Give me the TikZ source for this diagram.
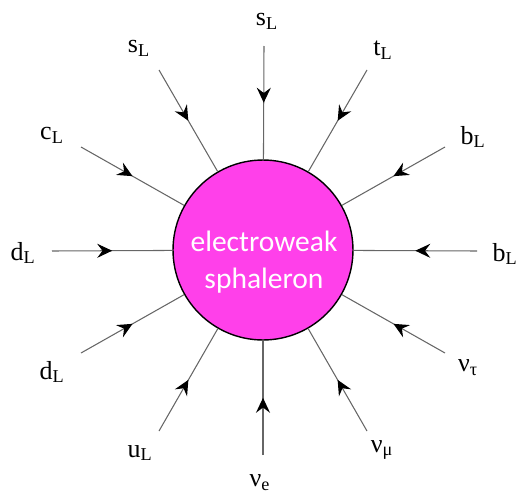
\documentclass[tikz,border=0pt]{standalone}
\usepackage{fontspec}
\setmainfont{Liberation Serif}
\newfontfamily\sphfont{Carlito}
\usetikzlibrary{arrows.meta,decorations.markings}
\definecolor{sphmagenta}{RGB}{255,64,234}

\begin{document}
\begin{tikzpicture}[
    x=0.02cm, y=-0.02cm,
    blob/.style={circle, draw=black, line width=0.8pt, fill=sphmagenta, minimum size=3.6cm, inner sep=0pt},
    blobtext/.style={align=center, text=white, font=\sphfont\fontsize{16.8}{21}\selectfont, inner sep=0pt},
    particle/.style={inner sep=0pt, font=\fontsize{14.8}{16}\selectfont},
    leg/.style={draw=black!60, line width=0.6pt, postaction={decorate},
        decoration={markings, mark=at position 0.5 with {\arrow[black]{Stealth[length=8.5pt,width=8pt,inset=3pt]}}}},
]
\useasboundingbox (0,0) rectangle (517,494);

\node (sph) [blob] at (263,250) {};
\node (sphlbl) [blobtext] at (264,262) {electroweak\\sphaleron};

% outer ends of the legs
\coordinate (up)  at (264,46);
\coordinate (ur1) at (367,70);
\coordinate (ur2) at (445,147);
\coordinate (rt)  at (477,251);
\coordinate (dr2) at (445,353);
\coordinate (dr1) at (367,431);
\coordinate (dn)  at (263,455);
\coordinate (dl1) at (159,431);
\coordinate (dl2) at (81,353);
\coordinate (lt)  at (52,251);
\coordinate (ul2) at (81,147);
\coordinate (ul1) at (159,70);

\node (sltop)  [particle] at (267,21)  {s\textsubscript{L}};
\node (tl)     [particle] at (383,50)  {t\textsubscript{L}};
\node (blup)   [particle] at (473,137) {b\textsubscript{L}};
\node (blrt)   [particle] at (505,254) {b\textsubscript{L}};
\node (nutau)  [particle] at (468,368) {ν\textsubscript{τ}};
\node (numu)   [particle] at (382,450) {ν\textsubscript{μ}};
\node (nue)    [particle] at (260,483) {ν\textsubscript{e}};
\node (ul)     [particle] at (140,453) {u\textsubscript{L}};
\node (dllow)  [particle] at (52,372)  {d\textsubscript{L}};
\node (dllt)   [particle] at (23,253)  {d\textsubscript{L}};
\node (cl)     [particle] at (52,135)  {c\textsubscript{L}};
\node (slleft) [particle] at (139,48)  {s\textsubscript{L}};

\draw [leg] (up) -- (sph);
\draw [leg] (ur1) -- (sph);
\draw [leg] (ur2) -- (sph);
\draw [leg] (rt) -- (sph);
\draw [leg] (dr2) -- (sph);
\draw [leg] (dr1) -- (sph);
\draw [leg] (dn) -- (sph);
\draw [leg] (dl1) -- (sph);
\draw [leg] (dl2) -- (sph);
\draw [leg] (lt) -- (sph);
\draw [leg] (ul2) -- (sph);
\draw [leg] (ul1) -- (sph);

\end{tikzpicture}
\end{document}
